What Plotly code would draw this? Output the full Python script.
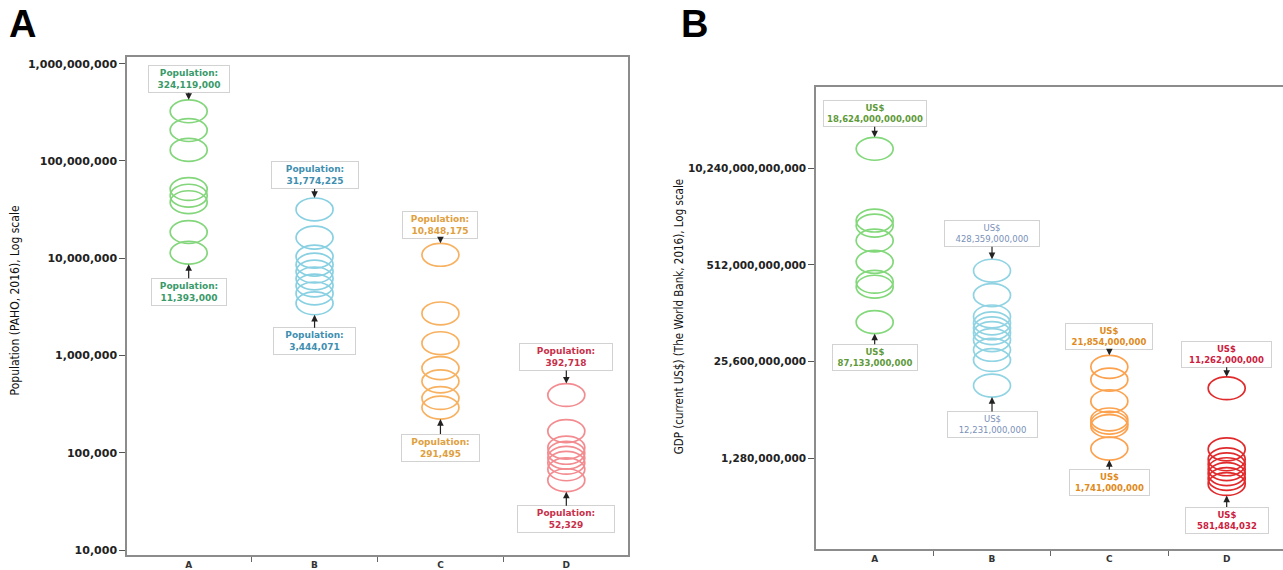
import math
import plotly.graph_objects as go

# ---------------- data ----------------
categories = ["A", "B", "C", "D"]

pop_A = [324119000, 208000000, 130000000, 51500000, 44000000, 37700000, 18600000, 11393000]
pop_B = [31774225, 16300000, 10400000, 8600000, 7300000, 6200000, 5250000, 4350000, 3444071]
pop_C = [10848175, 2710000, 1340000, 743000, 543000, 366000, 291495]
pop_D = [392718, 167000, 113000, 100000, 89000, 79000, 67700, 52329]

gdp_A = [18624000000000, 2020000000000, 1730000000000, 1090000000000,
         563000000000, 304000000000, 261000000000, 87133000000]
gdp_B = [428359000000, 201000000000, 104000000000, 84000000000, 72000000000,
         62000000000, 50000000000, 37000000000, 27000000000, 12231000000]
gdp_C = [21854000000, 14700000000, 7550000000, 4290000000, 3880000000, 3500000000, 1741000000]
gdp_D = [11262000000, 1700000000, 1250000000, 1070000000, 920000000, 790000000, 680000000, 581484032]

pop_ticks = [10000, 100000, 1000000, 10000000, 100000000, 1000000000]
gdp_ticks = [1280000000, 25600000000, 512000000000, 10240000000000]

pop_groups = [pop_A, pop_B, pop_C, pop_D]
gdp_groups = [gdp_A, gdp_B, gdp_C, gdp_D]

# ---------------- style ----------------
W, H = 1283, 570
popCircle = ["#84d67c", "#88d0e2", "#f7b160", "#f38c90"]
popText = ["#3a9a6a", "#3f8fb0", "#e0a040", "#c8304a"]
gdpCircle = ["#82d87a", "#90d3e3", "#fca24e", "#e02a2c"]
gdpText = ["#5e9a3a", "#7a90b8", "#e08a20", "#cc2040"]
gdpBold = [True, False, True, True]

# label box offsets (px) top/bottom per group
pop_ay = [(-32, 39), (-34, 38), (-30, 40), (-38, 39)]
gdp_ay = [(-35, 35), (-37, 39), (-30, 34), (-34, 36)]
pop_w = [(76, 70), (82, 77), (70, 73), (88, 92)]
gdp_w = [(98, 80), (90, 85), (82, 75), (85, 78)]

TICKFONT = "DejaVu Sans"
GRAYLINE = "#8c8c8c"
RING_HALF_W = 18.5      # px
RING_HALF_H = 11.5      # px

# panel geometry (px)
A_LEFT, A_RIGHT, A_TOP, A_BOT = 127, 628, 57, 558
A_RANGE = [3.949, 9.072]
B_LEFT, B_TOP, B_BOT = 816, 87, 552
B_RANGE = [7.890, 14.107]

fig = go.Figure()
shapes = []
annotations = []


def fx(p):
    return p / W


def fy(p):
    return 1 - p / H


def add_panel(groups, xref, yref, circ, tcol, ays, widths, prefix, bold_list, fsize,
              px_per_decade):
    k = 10 ** (RING_HALF_H / px_per_decade)
    for i, vals in enumerate(groups):
        fig.add_trace(go.Scatter(
            x=[i] * len(vals), y=vals, mode="markers",
            marker=dict(size=10, opacity=0), xaxis=xref, yaxis=yref,
            showlegend=False, hoverinfo="y"))
        for v in vals:
            shapes.append(dict(
                type="circle", xref=xref, yref=yref,
                xsizemode="pixel", xanchor=i,
                x0=-RING_HALF_W, x1=RING_HALF_W,
                y0=v / k, y1=v * k,
                line=dict(color=circ[i], width=1.7),
                fillcolor="rgba(0,0,0,0)", layer="above"))
        top, bot = max(vals), min(vals)
        for val, ay, w in ((top, ays[i][0], widths[i][0]), (bot, ays[i][1], widths[i][1])):
            body = f"{prefix}<br>{val:,}"
            if bold_list[i]:
                body = f"<b>{prefix}</b><br><b>{val:,}</b>"
            annotations.append(dict(
                x=i, y=math.log10(val), xref=xref, yref=yref,
                text=body, showarrow=True, ax=0, ay=ay,
                arrowhead=2, arrowsize=1.1, arrowwidth=1.2, arrowcolor="#222",
                standoff=RING_HALF_H, startstandoff=0,
                font=dict(family=TICKFONT, size=fsize, color=tcol[i]),
                bgcolor="white", bordercolor="#d2d2d2", borderwidth=1,
                borderpad=2, width=w, align="center"))


add_panel(pop_groups, "x", "y", popCircle, popText, pop_ay, pop_w,
          "Population:", [True] * 4, 9,
          (A_BOT - A_TOP) / (A_RANGE[1] - A_RANGE[0]))
add_panel(gdp_groups, "x2", "y2", gdpCircle, gdpText, gdp_ay, gdp_w,
          "US$", gdpBold, 8.5,
          (B_BOT - B_TOP) / (B_RANGE[1] - B_RANGE[0]))

# panel letters
annotations.append(dict(text="<b>A</b>", x=fx(7), y=fy(1), xref="paper", yref="paper",
                        xanchor="left", yanchor="top", showarrow=False,
                        font=dict(family="Liberation Sans", size=38, color="black")))
annotations.append(dict(text="<b>B</b>", x=fx(679), y=fy(1), xref="paper", yref="paper",
                        xanchor="left", yanchor="top", showarrow=False,
                        font=dict(family="Liberation Sans", size=38, color="black")))

# axis titles
TITLEFONT = "Liberation Sans Narrow, DejaVu Sans Condensed, Arial Narrow, sans-serif"
annotations.append(dict(text="Population (PAHO, 2016), Log scale", textangle=-90,
                        x=fx(15), y=fy(302), xref="paper", yref="paper",
                        xanchor="center", yanchor="middle", showarrow=False,
                        font=dict(family=TITLEFONT, size=12, color="#111")))
annotations.append(dict(text="GDP (current US$) (The World Bank, 2016), Log scale", textangle=-90,
                        x=fx(679), y=fy(319), xref="paper", yref="paper",
                        xanchor="center", yanchor="middle", showarrow=False,
                        font=dict(family=TITLEFONT, size=11.5, color="#111")))

xbase = dict(tickmode="array", tickvals=[0, 1, 2, 3], ticktext=categories, ticks="",
             showline=True, linecolor=GRAYLINE, linewidth=1.5, mirror=True,
             showgrid=False, zeroline=False,
             tickfont=dict(family=TICKFONT, size=9, color="#333", weight="bold"),
             minor=dict(tickmode="array", tickvals=[0.5, 1.5, 2.5], ticks="outside",
                        ticklen=5, tickwidth=1, tickcolor="#666"))

fig.update_layout(
    width=W, height=H,
    margin=dict(l=0, r=0, t=0, b=0),
    paper_bgcolor="white", plot_bgcolor="white",
    showlegend=False,
    xaxis=dict(xbase, domain=[fx(A_LEFT), fx(A_RIGHT)], range=[-0.49, 3.49], anchor="y"),
    yaxis=dict(type="log", domain=[fy(A_BOT), fy(A_TOP)], range=A_RANGE, anchor="x",
               tickmode="array", tickvals=pop_ticks,
               ticktext=[f"{t:,}" for t in pop_ticks],
               ticks="outside", ticklen=6, tickcolor="#555",
               showline=True, linecolor=GRAYLINE, linewidth=1.5, mirror=True,
               showgrid=False, zeroline=False,
               tickfont=dict(family=TICKFONT, size=11, color="#222", weight="bold")),
    xaxis2=dict(xbase, domain=[fx(B_LEFT), 1.0], range=[-0.5, 3.48], anchor="y2"),
    yaxis2=dict(type="log", domain=[fy(B_BOT), fy(B_TOP)], range=B_RANGE, anchor="x2",
                tickmode="array", tickvals=gdp_ticks,
                ticktext=[f"{t:,}" for t in gdp_ticks],
                ticks="outside", ticklen=6, tickcolor="#555",
                showline=True, linecolor=GRAYLINE, linewidth=1.5, mirror=False,
                showgrid=False, zeroline=False,
                tickfont=dict(family=TICKFONT, size=10.5, color="#222", weight="bold")),
    shapes=shapes,
    annotations=annotations,
)

fig.write_html("out.html", config={"displayModeBar": False},
               post_script="document.body.style.margin='0';document.body.style.overflow='hidden';")
